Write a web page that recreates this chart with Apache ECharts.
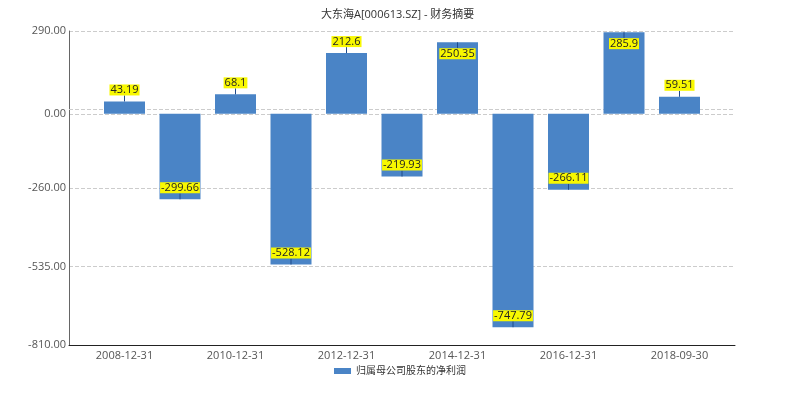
<!DOCTYPE html>
<html>
<head>
<meta charset="utf-8">
<script src="https://cdn.jsdelivr.net/npm/echarts@6/dist/echarts.min.js"></script>
<style>
  html, body { margin: 0; padding: 0; background: #fff; }
  #chart { width: 800px; height: 399px; }
</style>
</head>
<body>
<div id="chart"></div>
<script>
const categories = ['2008-12-31', '2009-12-31', '2010-12-31', '2011-12-31', '2012-12-31', '2013-12-31',
  '2014-12-31', '2015-12-31', '2016-12-31', '2017-12-31', '2018-09-30']
const netProfit = [43.19, -299.66, 68.1, -528.12, 212.6, -219.93, 250.35, -747.79, -266.11, 285.9, 59.51]
const yTicks = [290, 0, -260, -535, -810]

const fontFamily = '"Open Sans", "Noto Sans CJK SC", sans-serif'

// 两端留空一格，柱子落在刻度上
const axisData = [''].concat(categories, [''])
const barData = ['-'].concat(netProfit, ['-'])
const labelData = netProfit.map((v, i) => [i + 1, v])

const chart = echarts.init(document.getElementById('chart'))

chart.setOption({
  animation: false,
  title: {
    text: '大东海A[000613.SZ] - 财务摘要',
    left: 316,
    top: 4,
    textStyle: { fontSize: 11, fontWeight: 'normal', color: '#333', fontFamily }
  },
  legend: {
    bottom: 18,
    left: 'center',
    itemWidth: 17,
    itemHeight: 6,
    icon: 'rect',
    textStyle: { fontSize: 10, color: '#333', fontFamily },
    data: ['归属母公司股东的净利润']
  },
  grid: { left: 69, right: 65, top: 31, bottom: 54 },
  xAxis: {
    type: 'category',
    data: axisData,
    boundaryGap: false,
    axisLine: { onZero: false, lineStyle: { color: '#222', width: 1 } },
    axisTick: { show: false },
    axisLabel: {
      interval: (idx) => idx % 2 === 1,
      color: '#555',
      fontSize: 11,
      margin: 5,
      fontFamily
    },
    splitLine: { show: false }
  },
  yAxis: {
    type: 'value',
    min: -810,
    max: 290,
    axisLine: { show: true, lineStyle: { color: '#666' } },
    axisTick: { show: false, customValues: yTicks },
    axisLabel: {
      customValues: yTicks,
      formatter: (v) => v.toFixed(2),
      color: '#555',
      fontSize: 11,
      margin: 3,
      fontFamily
    },
    splitLine: { show: true, lineStyle: { color: '#ccc', type: 'dashed' } }
  },
  series: [
    {
      name: '归属母公司股东的净利润',
      type: 'bar',
      data: barData,
      barWidth: 41,
      z: 3,
      itemStyle: { color: '#4a84c6' }
    },
    {
      // 零线上方那条虚线，压在柱子下面
      type: 'line',
      data: [],
      z: 1,
      markLine: {
        z: 1,
        silent: true,
        symbol: 'none',
        label: { show: false },
        lineStyle: { color: '#ccc', type: 'dashed', width: 1 },
        data: [{ yAxis: 15 }]
      }
    },
    {
      type: 'custom',
      silent: true,
      z: 10,
      data: labelData,
      renderItem(params, api) {
        const end = api.coord([api.value(0), api.value(1)])
        const top = params.coordSys.y
        const up = end[1] - 19 > top
        const lineLen = 6
        const y2 = up ? end[1] - lineLen : end[1] + lineLen
        return {
          type: 'group',
          children: [
            {
              type: 'line',
              z2: 10,
              shape: { x1: end[0], y1: end[1], x2: end[0], y2: y2 },
              style: { stroke: '#1f4a8a', lineWidth: 1 }
            },
            {
              type: 'text',
              z2: 11,
              style: {
                x: end[0],
                y: y2,
                text: String(api.value(1)),
                align: 'center',
                verticalAlign: up ? 'bottom' : 'top',
                fill: '#222',
                fontSize: 11,
                fontFamily,
                backgroundColor: '#f8f800',
                padding: [0, 1]
              }
            }
          ]
        }
      }
    }
  ]
})
</script>
</body>
</html>
